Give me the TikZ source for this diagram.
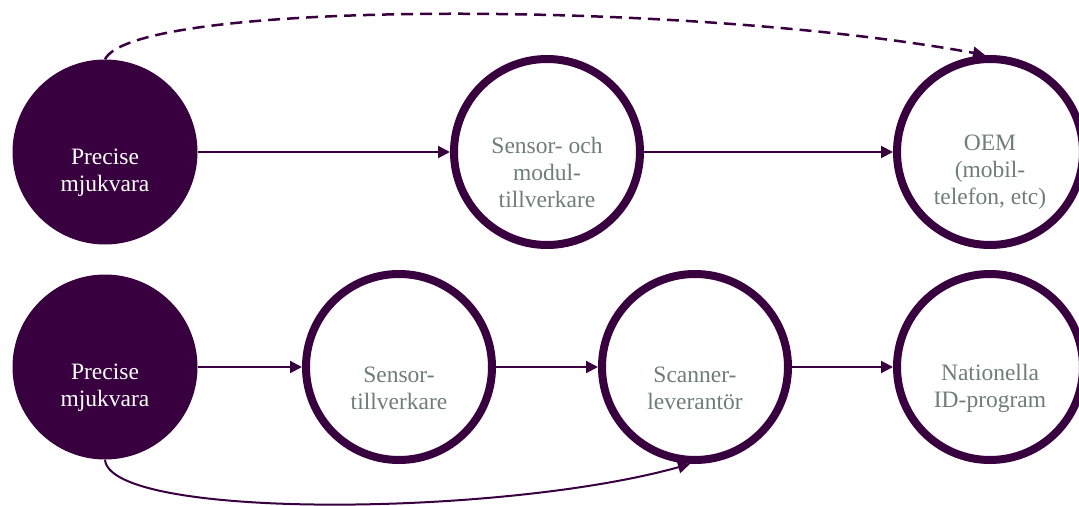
\documentclass[tikz,border=0pt]{standalone}
\usepackage{fontspec}
\setmainfont{Liberation Serif}
\usetikzlibrary{arrows.meta}
\definecolor{plum}{HTML}{38003F}
\definecolor{sage}{HTML}{6E7D78}
\begin{document}
\begin{tikzpicture}[x=1pt,y=-1pt,
    src/.style={circle,fill=plum,minimum size=185pt,inner sep=0pt},
    dst/.style={circle,draw=plum,line width=8pt,minimum size=186pt,inner sep=0pt,outer sep=4pt},
    lbl/.style={text=sage,align=center,inner sep=0pt,font=\fontsize{23.5}{27}\selectfont},
    flow/.style={-{Triangle[length=12pt,width=12pt]},draw=plum,line width=2pt}]
    \useasboundingbox (0,0) rectangle (1079,506);

    \node[src] (pm1) at (105,152) {};
    \node[dst] (smt) at (547,152) {};
    \node[dst] (oem) at (990,152) {};
    \node[src] (pm2) at (105,367) {};
    \node[dst] (st) at (399,367) {};
    \node[dst] (sl) at (695,367) {};
    \node[dst] (nid) at (990,367) {};

    % texts sit a bit below the centres
    \node[lbl,text=white] (pm1t) at (105,173) {Precise\\mjukvara};
    \node[lbl] (smtt) at (547,172) {Sensor- och\\modul-\\tillverkare};
    \node[lbl] (oemt) at (990,172) {OEM\\(mobil-\\telefon, etc)};
    \node[lbl,text=white] (pm2t) at (105,388) {Precise\\mjukvara};
    \node[lbl] (stt) at (399,388) {Sensor-\\tillverkare};
    \node[lbl] (slt) at (695,388) {Scanner-\\leverantör};
    \node[lbl] (nidt) at (990,388) {Nationella\\ID-program};

    \draw[flow] (pm1) to (smt);
    \draw[flow] (smt) to (oem);
    \draw[flow] (pm2) to (st);
    \draw[flow] (st) to (sl);
    \draw[flow] (sl) to (nid);
    \draw[flow,line width=2.5pt,dash pattern=on 12pt off 7pt] (pm1.north) .. controls +(30,-60) and +(-300,-55) .. ([xshift=-5pt]oem.north);
    \draw[flow] (pm2.south) .. controls +(5,60) and +(-190,53) .. ([xshift=-5pt]sl.south);
\end{tikzpicture}
\end{document}
